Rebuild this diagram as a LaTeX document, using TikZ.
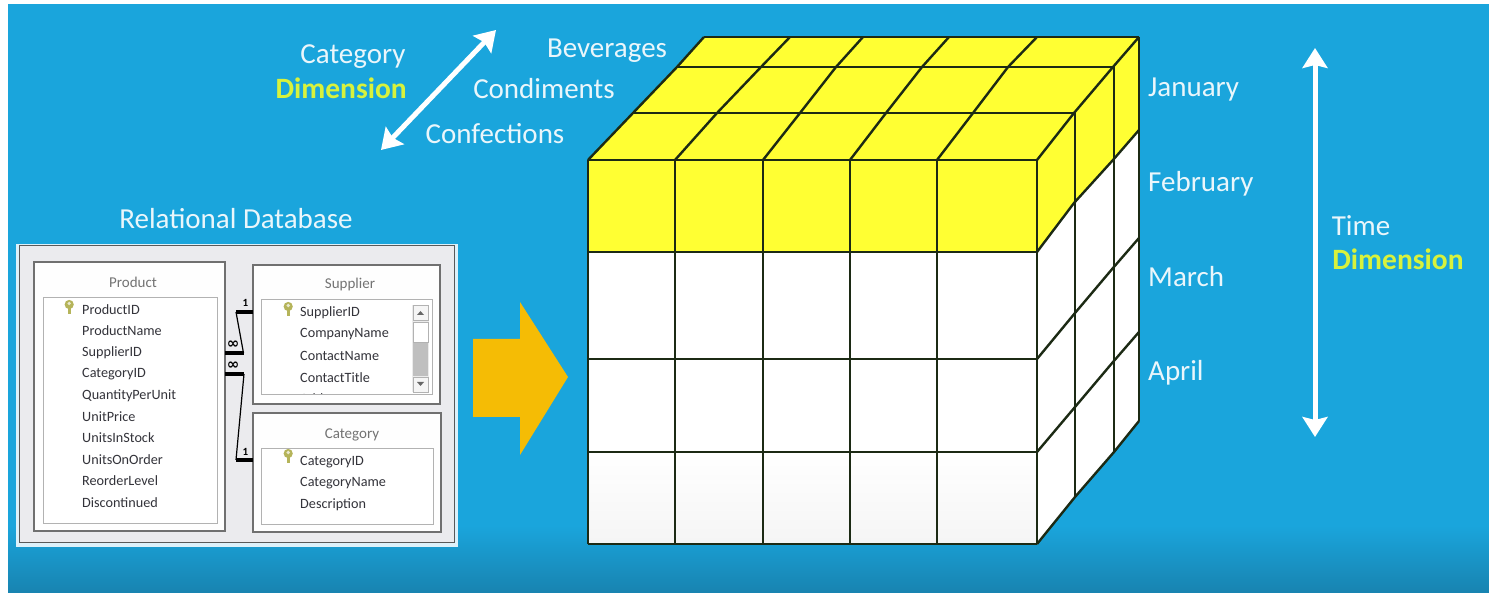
\documentclass[tikz,border=0pt]{standalone}
\usepackage{fontspec}
\setmainfont{Carlito}
\newfontfamily\symfont{DejaVu Sans}
\usetikzlibrary{arrows.meta}
\definecolor{bgblue}{HTML}{1AA5DC}
\definecolor{bgdark}{HTML}{1883B0}
\definecolor{cubey}{HTML}{FFFF33}
\definecolor{cubeline}{HTML}{1C2A14}
\definecolor{dimy}{HTML}{D8F23C}
\definecolor{lbl}{HTML}{EAF6FB}
\definecolor{panel}{HTML}{EBEBEE}
\definecolor{txtgrey}{HTML}{33333A}
\definecolor{boxline}{HTML}{707070}
\definecolor{keyc}{HTML}{B5B45A}
\definecolor{blockarrow}{HTML}{F5BC05}
\tikzset{
  x=1pt,y=-1pt,
  lbltext/.style={text=lbl,inner sep=0pt,font=\fontsize{29}{32}\selectfont},
  dimtext/.style={text=dimy,inner sep=0pt,font=\fontsize{29.5}{32}\selectfont\bfseries},
  grid/.style={draw=cubeline,line width=2.4pt,line join=round},
  field/.style={text=txtgrey,inner sep=0pt,anchor=west,font=\fontsize{14.2}{16}\selectfont},
  title/.style={text=black!55,inner sep=0pt,font=\fontsize{15}{17}\selectfont},
  tbl/.style={draw=boxline,line width=1.1pt,fill=white!97!panel},
  lst/.style={draw=black!30,line width=1pt,fill=white},
  rel/.style={draw=black,line width=1.2pt},
  relk/.style={draw=black,line width=3.4pt},
  relt/.style={text=black,inner sep=0pt,font=\fontsize{11}{12}\selectfont\bfseries},
  relinf/.style={text=black,inner sep=0pt,font=\fontsize{15}{16}\selectfont\bfseries},
  dimarrow/.style={draw=white,line width=5pt,{Stealth[length=20pt,width=25pt,inset=3pt]}-{Stealth[length=20pt,width=25pt,inset=3pt]}},
}
\newcommand{\dbkey}[2]{%
  \fill[keyc] (#1,#2+3) rectangle (#1+3.4,#2+12);
  \fill[keyc] (#1+1.7,#2+2.5) circle (4.6pt);
  \fill[white!70!keyc] (#1+1.7,#2+1.5) circle (1.8pt);
}
\begin{document}
\begin{tikzpicture}
\useasboundingbox (0,0) rectangle (1489,593);
% background
\fill[white] (0,0) rectangle (1489,593);
\fill[bgblue] (8,4) rectangle (1489,526);
\shade[top color=bgblue,bottom color=bgdark] (8,525.5) rectangle (1489,593);

% cube fills
\fill[cubey] (588,160) -- (704,37) -- (1139,37) -- (1139,130) -- (1113,160) -- (1074,203) -- (1037,252) -- (588,252) -- cycle;
\fill[white] (588,252) rectangle (1037,452);
\shade[top color=white,bottom color=black!4] (588,452) rectangle (1037,544);
\fill[white] (1037,252) -- (1074,203) -- (1113,160) -- (1139,130) -- (1139,421) -- (1114,452) -- (1075,497) -- (1037,544) -- cycle;

% cube: top face
\draw[grid] (704,37) -- (1139,37);
\draw[grid] (677,67) -- (1113,67);
\draw[grid] (633,113) -- (1074,113);
\draw[grid] (588,160) -- (1037,160);
\draw[grid] (588,160) -- (633,113) -- (677,67) -- (704,37);
\draw[grid] (675,160) -- (717,113) -- (761,67) -- (790,37);
\draw[grid] (763,160) -- (800,113) -- (836,67) -- (863,37);
\draw[grid] (850,160) -- (886,113) -- (922,67) -- (949,37);
\draw[grid] (937,160) -- (973,113) -- (1008,67) -- (1037,37);
\draw[grid] (1037,160) -- (1074,113) -- (1113,67) -- (1139,37);
% cube: front face
\draw[grid] (588,252) -- (1037,252);
\draw[grid] (588,359) -- (1037,359);
\draw[grid] (588,452) -- (1037,452);
\draw[grid] (588,544) -- (1037,544);
\foreach \cx in {588,675,763,850,937,1037} \draw[grid] (\cx,160) -- (\cx,544);
% cube: side face
\draw[grid] (1037,252) -- (1074,203) -- (1113,160) -- (1139,130);
\draw[grid] (1037,359) -- (1075,313) -- (1113,268) -- (1139,238);
\draw[grid] (1037,452) -- (1075,407) -- (1113,362) -- (1139,332);
\draw[grid] (1037,544) -- (1075,497) -- (1114,452) -- (1139,421);
\draw[grid] (1075,113) -- (1075,497);
\draw[grid] (1114,67) -- (1114,452);
\draw[grid] (1139,37) -- (1139,421);

% category labels
\node[lbltext] (cat) at (353,56.5) {Category};
\node[dimtext,anchor=east] (catdim) at (407,88) {Dimension};
\node[lbltext] (bev) at (607,50.5) {Beverages};
\node[lbltext] (con) at (544,89) {Condiments};
\node[lbltext] (cnf) at (495,134) {Confections};
\coordinate (catA) at (381,150);
\coordinate (catB) at (496,30);
\draw[dimarrow] (catA) -- (catB);

% time labels
\node[lbltext,anchor=west] (jan) at (1148,89.5) {January};
\node[lbltext,anchor=west] (feb) at (1148,183.5) {February};
\node[lbltext,anchor=west] (mar) at (1148,277) {March};
\node[lbltext,anchor=west] (apr) at (1148,373) {April};
\node[lbltext] (time) at (1361,225.5) {Time};
\node[dimtext] (timedim) at (1398,259) {Dimension};
\coordinate (timeA) at (1315,48);
\coordinate (timeB) at (1315,437);
\draw[dimarrow] (timeA) -- (timeB);

% yellow block arrow
\fill[blockarrow] (473,339) -- (520,339) -- (520,302) -- (568,377) -- (520,455) -- (520,417) -- (473,417) -- cycle;

% database panel
\node[lbltext,text=lbl] (rdb) at (236,218.5) {Relational Database};
\fill[white!85!bgblue] (16,244) rectangle (458,547);
\draw[draw=black!65,line width=1pt,fill=panel] (19,246) rectangle (454,542);

% Product
\draw[tbl] (34,262) rectangle (225,531);
\draw[lst] (43,298) rectangle (217,523);
\node[title] (prod) at (133,282) {Product};
\dbkey{67.5}{302}
\node[field] (p1) at (82,309.5) {ProductID};
\node[field] (p2) at (82,331) {ProductName};
\node[field] (p3) at (82,352.5) {SupplierID};
\node[field] (p4) at (82,374) {CategoryID};
\node[field] (p5) at (82,395.5) {QuantityPerUnit};
\node[field] (p6) at (82,416.5) {UnitPrice};
\node[field] (p7) at (82,438) {UnitsInStock};
\node[field] (p8) at (82,459.5) {UnitsOnOrder};
\node[field] (p9) at (82,481) {ReorderLevel};
\node[field] (p10) at (82,502.5) {Discontinued};

% Supplier
\draw[tbl] (253,265) rectangle (440,404);
\draw[lst] (261,300) rectangle (432,395);
\node[title] (sup) at (350,285) {Supplier};
\dbkey{286.5}{304}
\node[field] (s1) at (300,313) {SupplierID};
\node[field] (s2) at (300,334.5) {CompanyName};
\node[field] (s3) at (300,356) {ContactName};
\node[field] (s4) at (300,377.5) {ContactTitle};
\begin{scope}
  \clip (262,388) rectangle (431,394);
  \node[field] (s5) at (300,399) {Address};
\end{scope}
% scrollbar
\fill[black!8] (412,305) rectangle (429,392);
\fill[black!25] (413,342) rectangle (428,376);
\draw[draw=black!30,fill=white] (413,322) rectangle (428,342);
\draw[draw=black!30,fill=black!4] (413,305) rectangle (428,320);
\draw[draw=black!30,fill=black!4] (413,377) rectangle (428,392);
\fill[black!60] (417,315) -- (424,315) -- (420.5,311) -- cycle;
\fill[black!60] (417,382) -- (424,382) -- (420.5,386) -- cycle;

% Category
\draw[tbl] (253,413) rectangle (441,532);
\draw[lst] (261,449) rectangle (433,524);
\node[title] (catt) at (352,434.5) {Category};
\dbkey{286.5}{451}
\node[field] (c1) at (300,462) {CategoryID};
\node[field] (c2) at (300,483.5) {CategoryName};
\node[field] (c3) at (300,505) {Description};

% relationships
\coordinate (r1a) at (253,312);
\coordinate (r1b) at (236,312);
\coordinate (r1c) at (243.5,353);
\coordinate (r1d) at (225,353);
\coordinate (r2a) at (225,374);
\coordinate (r2b) at (244,374);
\coordinate (r2c) at (236,460);
\coordinate (r2d) at (253,460);
\draw[rel] (r1b) -- (r1c);
\draw[rel] (r2b) -- (r2c);
\draw[relk] (r1a) -- (r1b);
\draw[relk] (r1c) -- (r1d);
\draw[relk] (r2a) -- (r2b);
\draw[relk] (r2c) -- (r2d);
\node[relt] (one1) at (245.5,303) {1};
\node[relt] (one2) at (245.5,452) {1};
\node[relinf] (inf1) at (233,344.5) {\symfont\bfseries ∞};
\node[relinf] (inf2) at (233,365.5) {\symfont\bfseries ∞};
\end{tikzpicture}
\end{document}
